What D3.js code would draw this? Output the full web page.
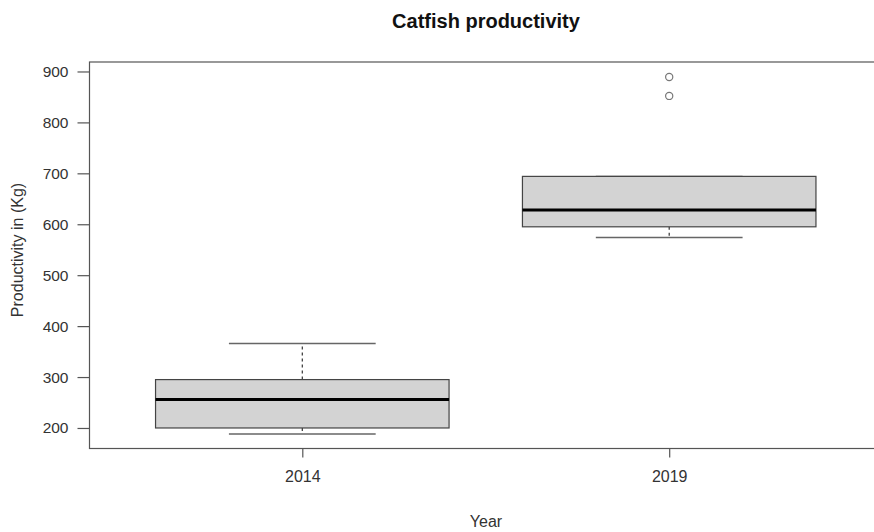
<!DOCTYPE html>
<html>
<head>
<meta charset="utf-8">
<script src="https://cdn.jsdelivr.net/npm/d3@7"></script>
<style>
  html, body { margin: 0; padding: 0; background: #fff; }
  svg { display: block; font-family: "Liberation Sans", Arial, sans-serif; }
</style>
</head>
<body>
<svg id="chart" width="874" height="532"></svg>
<script>
// Catfish productivity by year: five-number summaries plus outliers
const years = ["2014", "2019"];
const whiskerLow = [188, 574];
const q1 = [200, 595];
const median = [256, 628];
const q3 = [295, 694];
const whiskerHigh = [366, 694];
const outliers = [[], [852, 889]];
const yTicks = [200, 300, 400, 500, 600, 700, 800, 900];

const svg = d3.select("#chart");
const textColor = "#333";

// group positions 1..n, padded like base-R boxplot (0.5..n+0.5 with 4% extension)
const x = d3.scaleLinear().domain([0.42, 2.58]).range([89.5, 882]);
const y = d3.scaleLinear().domain([159.7, 918.6]).range([448.5, 62]);
const halfW = 0.4;

const data = years.map((yr, i) => ({
  year: yr, pos: i + 1,
  lo: whiskerLow[i], q1: q1[i], med: median[i], q3: q3[i], hi: whiskerHigh[i],
  out: outliers[i]
}));

const g = svg.append("g");

// whiskers (dashed stems) and caps
data.forEach(d => {
  const cx = x(d.pos);
  g.append("line").attr("x1", cx).attr("x2", cx)
    .attr("y1", y(d.q3)).attr("y2", y(d.hi))
    .attr("stroke", "#333").attr("stroke-width", 1.2).attr("stroke-dasharray", "3,3");
  g.append("line").attr("x1", cx).attr("x2", cx)
    .attr("y1", y(d.q1)).attr("y2", y(d.lo))
    .attr("stroke", "#333").attr("stroke-width", 1.2).attr("stroke-dasharray", "3,3");
  const capL = x(d.pos - halfW / 2), capR = x(d.pos + halfW / 2);
  [d.lo, d.hi].forEach(v => {
    g.append("line").attr("x1", capL).attr("x2", capR)
      .attr("y1", y(v)).attr("y2", y(v))
      .attr("stroke", "#666").attr("stroke-width", 1.5);
  });
  // box
  g.append("rect")
    .attr("x", x(d.pos - halfW)).attr("width", x(d.pos + halfW) - x(d.pos - halfW))
    .attr("y", y(d.q3)).attr("height", y(d.q1) - y(d.q3))
    .attr("fill", "#d3d3d3").attr("stroke", "#444").attr("stroke-width", 1.2);
  // median
  g.append("line")
    .attr("x1", x(d.pos - halfW)).attr("x2", x(d.pos + halfW))
    .attr("y1", y(d.med)).attr("y2", y(d.med))
    .attr("stroke", "#000").attr("stroke-width", 3);
  // outliers
  d.out.forEach(v => {
    g.append("circle").attr("cx", cx).attr("cy", y(v)).attr("r", 3.6)
      .attr("fill", "none").attr("stroke", "#777").attr("stroke-width", 1.2);
  });
});

// plot frame
svg.append("rect")
  .attr("x", x(0.42)).attr("y", y(918.6))
  .attr("width", x(2.58) - x(0.42)).attr("height", y(159.7) - y(918.6))
  .attr("fill", "none").attr("stroke", "#555").attr("stroke-width", 1.2);

// y axis
const yAxis = d3.axisLeft(y).tickValues(yTicks).tickSize(12).tickPadding(9)
  .tickFormat(d3.format("d"));
const ya = svg.append("g").attr("transform", `translate(${x(0.42)},0)`).call(yAxis);
ya.select(".domain").remove();
ya.selectAll(".tick line").attr("stroke", "#555").attr("stroke-width", 1.2);
ya.selectAll(".tick text").attr("fill", textColor)
  .style("font-size", "15.5px").style("font-family", "'Liberation Sans', Arial, sans-serif");

// x axis
const xAxis = d3.axisBottom(x).tickValues(data.map(d => d.pos)).tickSize(9).tickPadding(13)
  .tickFormat((d, i) => years[i]);
const xa = svg.append("g").attr("transform", `translate(0,${y(159.7)})`).call(xAxis);
xa.select(".domain").remove();
xa.selectAll(".tick line").attr("stroke", "#555").attr("stroke-width", 1.2);
xa.selectAll(".tick text").attr("fill", textColor)
  .style("font-size", "16px").style("font-family", "'Liberation Sans', Arial, sans-serif");

// title and axis labels
svg.append("text").attr("x", 486).attr("y", 28).attr("text-anchor", "middle")
  .attr("fill", "#111").style("font-size", "20px").style("font-weight", "bold")
  .text("Catfish productivity");
svg.append("text").attr("x", 486).attr("y", 527).attr("text-anchor", "middle")
  .attr("fill", textColor).style("font-size", "16px").text("Year");
svg.append("text").attr("transform", "translate(23,250) rotate(-90)")
  .attr("text-anchor", "middle").attr("fill", textColor).style("font-size", "16px")
  .text("Productivity in (Kg)");
</script>
</body>
</html>
